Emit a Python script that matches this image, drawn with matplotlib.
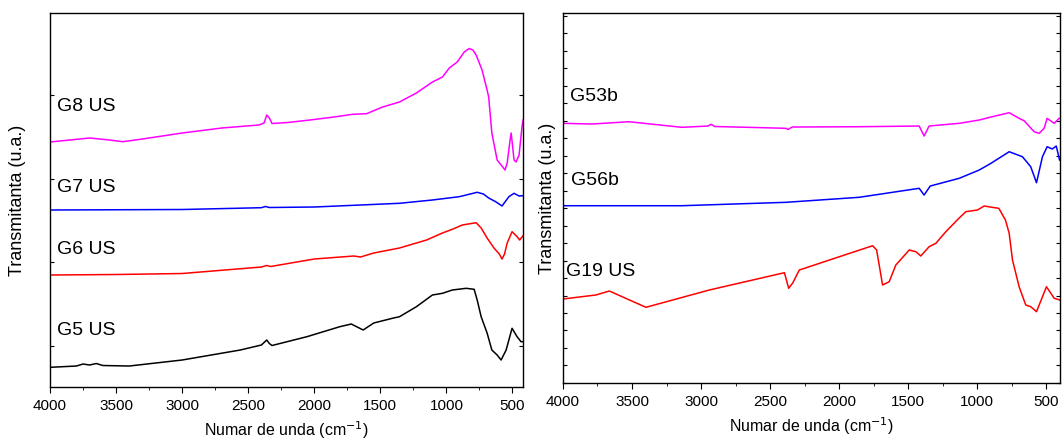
import matplotlib
matplotlib.use("Agg")
from matplotlib import pyplot as plt
from matplotlib.ticker import MultipleLocator, FixedLocator

plt.rcParams['font.family'] = ['Liberation Sans', 'DejaVu Sans']

# ---- left panel data (wavenumber, transmittance a.u.) ----
g8_wn = [4000, 3850, 3700, 3550, 3450, 3300, 3000, 2700, 2420, 2380, 2360, 2340, 2320, 2200,
         2033, 1850, 1710, 1604, 1483, 1355, 1227, 1150, 1106, 1030, 978, 918, 865, 827, 800,
         775, 730, 692, 680, 656, 616, 556, 540, 518, 510, 500, 488, 473, 450, 428, 420]
g8_t = [245, 247, 249, 247, 245.3, 248, 254, 259, 262, 264, 272, 269, 263.5, 264.5,
        267, 270, 272.7, 273.3, 280, 285, 294, 301, 305, 310, 319, 325, 335, 338.5, 337,
        332, 317, 297, 290, 254, 227, 217, 224, 247, 254, 242, 227, 225, 232, 260, 267]

g7_wn = [4000, 3000, 2400, 2370, 2340, 2000, 1355, 1106, 903, 767, 720, 680, 627, 579,
         527, 488, 450, 422]
g7_t = [177, 177.5, 179.3, 180.5, 179.5, 180, 183.7, 187, 190.3, 194.7, 193, 189, 185.3, 181,
        190.3, 193.7, 191, 191.3]

g6_wn = [4000, 3500, 3000, 2400, 2360, 2330, 2000, 1700, 1650, 1550, 1355, 1150, 1030, 950,
         880, 775, 737, 692, 640, 600, 579, 560, 540, 503, 465, 445, 422]
g6_t = [112, 112.5, 113.5, 120, 121.5, 120.5, 128, 131, 130, 134, 139, 147, 154, 158,
        162, 164.3, 159, 149, 139, 133, 128, 133, 144, 155.3, 150.3, 147, 151]

g5_wn = [4000, 3800, 3750, 3700, 3650, 3600, 3400, 3000, 2560, 2400, 2360, 2340, 2320, 2056,
         1807, 1720, 1630, 1550, 1400, 1355, 1227, 1106, 1030, 955, 850, 790, 767, 737, 692,
         656, 616, 586, 548, 503, 465, 435, 422]
g5_t = [19.7, 21, 23, 22, 23.5, 21.5, 21, 27, 37, 42, 47, 43.5, 41.5, 50.3,
        60.3, 63, 57, 64, 69, 70.3, 80.3, 92, 93.7, 97, 98.7, 97.7, 87, 70.3, 54,
        37, 32, 27, 37, 58.7, 50.3, 45.3, 45.3]

# ---- right panel data ----
g53_wn = [4000, 3790, 3522, 3138, 2950, 2928, 2900, 2600, 2384, 2370, 2340, 1855, 1420, 1384,
          1348, 1130, 985, 891, 768, 696, 660, 587, 551, 515, 493, 442, 406]
g53_t = [259.7, 259, 261.3, 255.7, 257, 258.7, 256.5, 255.5, 254.7, 253.5, 256, 256.3, 257, 247,
         257, 259.7, 263, 266.3, 270.3, 264.7, 262.3, 251.3, 249.7, 254.7, 264.7, 259.7, 264.7]

g56_wn = [4000, 3138, 2384, 1855, 1420, 1384, 1340, 1130, 985, 900, 768, 672, 612, 570,
          527, 493, 456, 427, 403]
g56_t = [177.3, 177.3, 180.7, 185.7, 194.7, 188, 197, 204.7, 213, 219.7, 231.3, 226.3, 216.3, 200.3,
         226.3, 236.3, 234, 237, 223]

g19_wn = [4000, 3762, 3664, 3399, 2940, 2396, 2365, 2336, 2288, 1757, 1728, 1685, 1637, 1589,
          1492, 1444, 1408, 1348, 1299, 1227, 1130, 1082, 998, 949, 891, 843, 795, 768, 744,
          696, 648, 612, 570, 498, 442, 401]
g19_t = [84, 88, 92, 75.7, 93, 110.3, 94.7, 100, 113, 137.3, 133, 98, 101.3, 118,
         133, 131.3, 127, 136.3, 139.7, 151.3, 165, 171.3, 173, 177, 175.7, 174.7, 163, 149.7, 123,
         96.3, 78, 76.3, 71.3, 96.3, 84.7, 83]

left_labels = ["G8 US", "G7 US", "G6 US", "G5 US"]
right_labels = ["G53b", "G56b", "G19 US"]

fig = plt.figure(figsize=(10.62, 4.42), dpi=100)
ax1 = fig.add_axes([0.0471, 0.1244, 0.4454, 0.8462])
ax2 = fig.add_axes([0.5301, 0.1335, 0.468, 0.837])

lw = 1.1
ax1.plot(g8_wn, g8_t, color='#ff00ff', lw=lw)
ax1.plot(g7_wn, g7_t, color='#0000ff', lw=lw)
ax1.plot(g6_wn, g6_t, color='#ff0000', lw=lw)
ax1.plot(g5_wn, g5_t, color='black', lw=lw)

ax2.plot(g53_wn, g53_t, color='#ff00ff', lw=lw)
ax2.plot(g56_wn, g56_t, color='#0000ff', lw=lw)
ax2.plot(g19_wn, g19_t, color='#ff0000', lw=lw)

ax1.set_xlim(4000, 420)
ax1.set_ylim(0, 374)
ax2.set_xlim(4000, 400)
ax2.set_ylim(0, 370)

for lab, yv in zip(left_labels, [280, 200, 138, 57]):
    ax1.text(3945, yv, lab, fontsize=14, va='center', ha='left')
for lab, yv, xv in zip(right_labels, [287, 203, 112], [3950, 3940, 3975]):
    ax2.text(xv, yv, lab, fontsize=14, va='center', ha='left')

for ax in (ax1, ax2):
    ax.xaxis.set_major_locator(MultipleLocator(500))
    ax.xaxis.set_minor_locator(MultipleLocator(250))
    ax.tick_params(axis='x', which='both', direction='out', top=False, labelsize=11, pad=4.5)
    ax.tick_params(axis='x', which='major', length=4)
    ax.tick_params(axis='x', which='minor', length=2.5)
    ax.tick_params(axis='y', which='both', direction='in', left=True, right=True,
                   labelleft=False, length=3)
    ax.set_xlabel("Numar de unda (cm$^{-1}$)", fontsize=11.5, labelpad=5)
    for s in ax.spines.values():
        s.set_linewidth(1.0)

ax1.set_ylabel("Transmitanta (u.a.)", fontsize=13, labelpad=17)
ax2.set_ylabel("Transmitanta (u.a.)", fontsize=13, labelpad=5)

ax1.yaxis.set_major_locator(FixedLocator([41, 125, 208, 292]))
ax2.yaxis.set_major_locator(MultipleLocator(17.5))

fig.savefig("out.png", dpi=100)
